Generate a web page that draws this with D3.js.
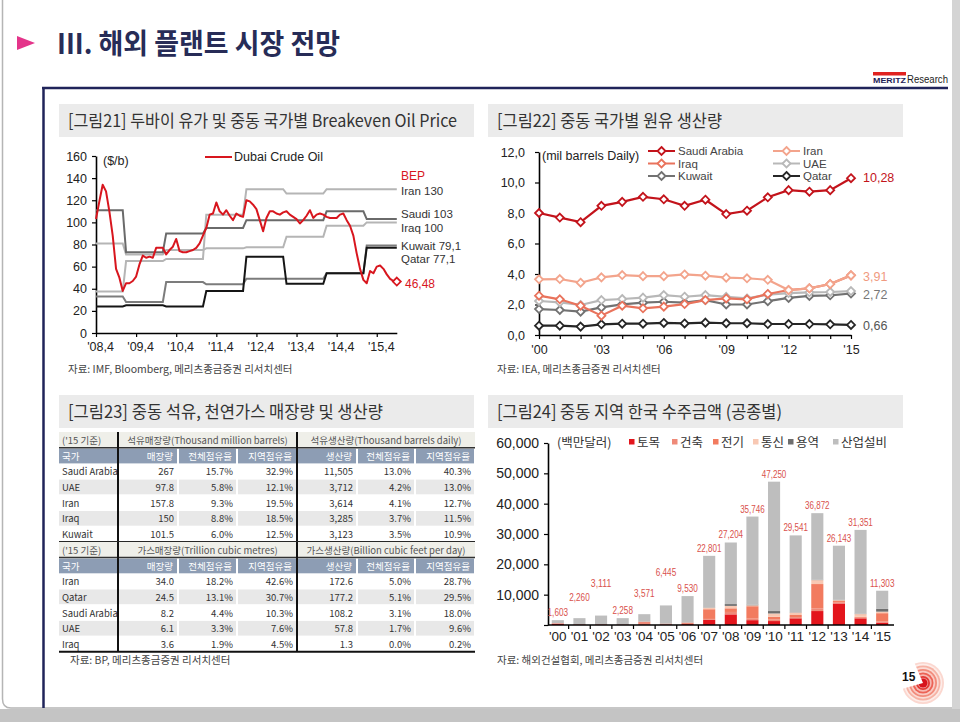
<!DOCTYPE html>
<html><head><meta charset="utf-8">
<script src="https://cdn.jsdelivr.net/npm/d3@7"></script>
<style>body{margin:0;background:#fff}svg{display:block}</style>
</head><body><svg id="c" width="960" height="722"></svg>
<script>
// ================= DATA =================
// Fig 21: Dubai crude monthly (from 2008.4) and annual breakeven prices
const dubaiTickLabels = ["'08,4","'09,4","'10,4","'11,4","'12,4","'13,4","'14,4","'15,4"];
const dubai = [103,119,134,128,110,88,58,50,38,45,45,47,51,62,70,68,69,68,77,77,77,71,75,78,85,74,73,73,74,75,
  77,81,88,95,107,108,118,110,107,111,106,102,108,106,105,120,119,116,112,102,92,104,110,110,108,107,109,110,107,105,
  103,99,102,106,111,104,107,108,107,105,104,104,104,107,108,102,97,88,72,58,48,45,56,54,60,61,58,53,49,47,46.48];
const bepYears = [2008,2009,2010,2011,2012,2013,2014,2015];
const bepIran   = [37.6,65,67,107,130,126,130,130];
const bepSaudi  = [111,73,90,95,102,102,110,103];
const bepIraq   = [81,71,75,76.5,77.5,87,97,100];
const bepKuwait = [33,28,46,44,49,49,54,79.1];
const bepQatar  = [24,25,24,38,69,44.5,54,77.1];
const bepLabels = ["Iran 130","Saudi 103","Iraq 100","Kuwait 79,1","Qatar 77,1"];

// Fig 22: crude production (mil b/d), 2000-2015
const prodYears = d3.range(2000,2016);
const prodSaudi  = [8.0,7.7,7.4,8.47,8.73,9.06,8.9,8.47,8.87,7.93,8.15,9.03,9.5,9.4,9.5,10.28];
const prodIran   = [3.65,3.67,3.43,3.78,3.93,3.86,3.86,3.97,3.89,3.76,3.72,3.62,2.95,3.06,3.34,3.91];
const prodIraq   = [2.58,2.34,1.92,1.27,1.92,1.75,1.86,2.03,2.29,2.40,2.34,2.69,2.95,3.06,3.34,3.91];
const prodUAE    = [2.23,2.14,1.97,2.29,2.36,2.45,2.62,2.51,2.62,2.5,2.4,2.65,2.75,2.8,2.82,2.88];
const prodKuwait = [1.70,1.64,1.53,1.81,2.01,2.12,2.18,2.12,2.29,2.0,2.0,2.22,2.43,2.56,2.6,2.72];
const prodQatar  = [0.61,0.61,0.55,0.70,0.74,0.74,0.79,0.76,0.81,0.77,0.77,0.72,0.72,0.72,0.70,0.66];

// Fig 23: tables
const oilCountries = ["Saudi Arabia","UAE","Iran","Iraq","Kuwait"];
const oilReserve   = ["267","97.8","157.8","150","101.5"];
const oilResTotal  = ["15.7%","5.8%","9.3%","8.8%","6.0%"];
const oilResRegion = ["32.9%","12.1%","19.5%","18.5%","12.5%"];
const oilProd      = ["11,505","3,712","3,614","3,285","3,123"];
const oilProdTotal = ["13.0%","4.2%","4.1%","3.7%","3.5%"];
const oilProdRegion= ["40.3%","13.0%","12.7%","11.5%","10.9%"];
const gasCountries = ["Iran","Qatar","Saudi Arabia","UAE","Iraq"];
const gasReserve   = ["34.0","24.5","8.2","6.1","3.6"];
const gasResTotal  = ["18.2%","13.1%","4.4%","3.3%","1.9%"];
const gasResRegion = ["42.6%","30.7%","10.3%","7.6%","4.5%"];
const gasProd      = ["172.6","177.2","108.2","57.8","1.3"];
const gasProdTotal = ["5.0%","5.1%","3.1%","1.7%","0.0%"];
const gasProdRegion= ["28.7%","29.5%","18.0%","9.6%","0.2%"];
const colHeads = ["국가","매장량","전체점유율","지역점유율","생산량","전체점유율","지역점유율"];

// Fig 24: Korean orders in Middle East by work type (USD mn)
const orderYears = ["'00","'01","'02","'03","'04","'05","'06","'07","'08","'09","'10","'11","'12","'13","'14","'15"];
const orderTotal = [1603,2260,3111,2258,3571,6445,9530,22801,27204,35746,47250,29541,36872,26143,31351,11303];
const civil    = [400,150,150,100,200,150,300,1700,3500,1600,1300,2200,4600,7100,2200,800];
const building = [200,100,100,100,900,300,500,300,800,500,500,400,900,300,200,400];
const electric = [0,0,0,0,0,0,0,3200,1200,4100,900,700,8000,500,300,2700];
const telecom  = [0,0,0,0,0,0,0,500,800,300,1100,800,1300,300,900,500];
const service  = [0,0,0,0,50,50,50,100,600,200,800,100,100,100,100,900];
const plant    = [1000,2010,2860,2060,2420,5950,8680,17000,20300,29050,42650,25340,21970,17840,27650,6000];

// ================= DRAW =================
const F = "'Liberation Sans','Noto Sans CJK KR',sans-serif";
const K = "'Noto Sans CJK KR',sans-serif";
const svg = d3.select('#c');
const txt = (x,y,s,o={}) => {
  const t = svg.append('text').attr('x',x).attr('y',y).text(s)
    .attr('font-family',o.ff||F).attr('font-size',o.fs||12).attr('fill',o.fill||'#222');
  if (o.anchor) t.attr('text-anchor',o.anchor);
  if (o.fw) t.attr('font-weight',o.fw);
  if (o.tl) t.attr('textLength',o.tl).attr('lengthAdjust','spacingAndGlyphs');
  if (o.db) t.attr('dominant-baseline',o.db);
  return t;
};

// page frame
svg.append('rect').attr('width',960).attr('height',722).attr('fill','#fff');
svg.append('rect').attr('x',952).attr('y',0).attr('width',8).attr('height',722).attr('fill','#d4d4d4');
svg.append('rect').attr('x',0).attr('y',709).attr('width',960).attr('height',13).attr('fill','#c4c4c4');
svg.append('path').attr('d','M2.5,0 V699 Q2.5,708 11,708 H952').attr('fill','none').attr('stroke','#b5b5b5').attr('stroke-width',1.5);

// title
svg.append('path').attr('d','M17,36 L35,43 L17,50 Z').attr('fill','#e4348a');
txt(57,54,'III. 해외 플랜트 시장 전망',{ff:K,fs:28,fw:700,fill:'#272c57',tl:283});
// logo
svg.append('rect').attr('x',873).attr('y',72).attr('width',33).attr('height',3.5).attr('fill','#e0221f');
txt(873,83,'MERITZ',{fs:7.5,fw:700,fill:'#1f2357',tl:33});
txt(907,83,'Research',{fs:10,fill:'#222',tl:41});
// navy frame
svg.append('line').attr('x1',42).attr('x2',948).attr('y1',88).attr('y2',88).attr('stroke','#20245a').attr('stroke-width',2.5);
svg.append('line').attr('x1',43.5).attr('x2',43.5).attr('y1',88).attr('y2',708).attr('stroke','#20245a').attr('stroke-width',2.5);

// section headers
[[59,104,'[그림21] 두바이 유가 및 중동 국가별 Breakeven Oil Price',389],
 [488,104,'[그림22] 중동 국가별 원유 생산량',225],
 [59,395,'[그림23] 중동 석유, 천연가스 매장량 및 생산량',315],
 [488,395,'[그림24] 중동 지역 한국 수주금액 (공종별)',285]].forEach(([x,y,s,tl])=>{
  svg.append('rect').attr('x',x).attr('y',y).attr('width',415).attr('height',33).attr('fill','#ebebeb');
  txt(x+9,y+23,s,{ff:K,fs:17,fill:'#333',tl:tl});
});

function styleAxis(g, fs){
  g.attr('font-family',F).attr('font-size',fs);
  g.select('.domain').attr('stroke','#000').attr('stroke-width',1.6);
  g.selectAll('.tick line').attr('stroke','#000').attr('stroke-width',1.2);
  g.selectAll('.tick text').attr('fill','#222');
}
const decComma = f => d => f(d).replace('.',',');

// ---------- Fig 21 ----------
{
  const x = d3.scaleLinear().domain([0,90]).range([96,396.8]);
  const y = d3.scaleLinear().domain([0,160]).range([333,156]);
  const gy = svg.append('g').attr('transform','translate(96,0)')
    .call(d3.axisLeft(y).tickValues(d3.range(0,161,20)).tickSize(4).tickSizeOuter(0).tickPadding(5));
  styleAxis(gy,12.5);
  const gx = svg.append('g').attr('transform','translate(0,333)')
    .call(d3.axisBottom(x).tickValues(d3.range(0,85,12)).tickFormat((d,i)=>dubaiTickLabels[i]).tickSize(4).tickSizeOuter(0).tickPadding(5));
  styleAxis(gx,12.5);
  gx.selectAll('.tick text').attr('dx',4);
  const months = d3.range(0,91);
  const yi = m => m < 9 ? 0 : 1 + Math.floor((m-9)/12);
  const line = d3.line().x(d=>d[0]).y(d=>d[1]);
  const bep = [[bepIran,'#b5b5b5'],[bepIraq,'#b5b5b5'],[bepKuwait,'#7c7c7c'],[bepSaudi,'#6a6a6a'],[bepQatar,'#151515']];
  bep.forEach(([s,c])=>{
    svg.append('path').attr('d',line(months.map(m=>[x(m),y(s[yi(m)])])))
      .attr('fill','none').attr('stroke',c).attr('stroke-width',2);
  });
  svg.append('path').attr('d',line(dubai.map((v,i)=>[x(i),y(v)])))
    .attr('fill','none').attr('stroke','#d8161e').attr('stroke-width',2).attr('stroke-linejoin','round');
  const lx = x(90), ly = y(dubai[90]);
  svg.append('path').attr('d',`M${lx},${ly-4} L${lx+4},${ly} L${lx},${ly+4} L${lx-4},${ly} Z`)
    .attr('fill','#fff').attr('stroke','#d8161e').attr('stroke-width',1.8);
  txt(103,165,'($/b)',{fs:12.5});
  svg.append('line').attr('x1',205).attr('x2',232).attr('y1',157).attr('y2',157).attr('stroke','#d8161e').attr('stroke-width',2);
  txt(234,161,'Dubai Crude Oil',{fs:12.5});
  txt(401,180,'BEP',{fs:12,fill:'#d8161e'});
  const ys = [195,218,232,250,263];
  bepLabels.forEach((s,i)=>txt(401,ys[i],s,{fs:11.5,fill:'#333'}));
  txt(405,288,String(dubai[90]).replace('.',','),{fs:12,fill:'#d8161e'});
  txt(68,373,'자료: IMF, Bloomberg, 메리츠종금증권 리서치센터',{ff:K,fs:10.5,fill:'#444'});
}

// ---------- Fig 22 ----------
{
  const x = d3.scaleLinear().domain([2000,2015]).range([539,851]);
  const y = d3.scaleLinear().domain([0,12]).range([335,152]);
  const gy = svg.append('g').attr('transform','translate(539,0)')
    .call(d3.axisLeft(y).tickValues(d3.range(0,13,2)).tickFormat(decComma(d3.format('.1f'))).tickSize(4).tickSizeOuter(0).tickPadding(10));
  styleAxis(gy,12.5);
  const gx = svg.append('g').attr('transform','translate(0,335)')
    .call(d3.axisBottom(x).tickValues(prodYears).tickFormat(d=> (d-2000)%3===0 ? "'"+String(d).slice(2) : '').tickSize(4).tickSizeOuter(0).tickPadding(6));
  styleAxis(gx,12.5);
  const series = [
    ['Qatar',prodQatar,'#262626'],['Kuwait',prodKuwait,'#727272'],['UAE',prodUAE,'#b8b8b8'],
    ['Iraq',prodIraq,'#e9735c'],['Iran',prodIran,'#f3a48c'],['Saudi Arabia',prodSaudi,'#c3131b']];
  const line = d3.line().x((d,i)=>x(prodYears[i])).y(d=>y(d));
  const dia = (g,cx,cy,c)=> g.append('path').attr('d',`M${cx},${cy-4} L${cx+4},${cy} L${cx},${cy+4} L${cx-4},${cy} Z`)
      .attr('fill','#fff').attr('stroke',c).attr('stroke-width',1.8);
  series.forEach(([n,s,c])=>{
    svg.append('path').attr('d',line(s)).attr('fill','none').attr('stroke',c).attr('stroke-width',2.2);
    const g = svg.append('g');
    s.forEach((v,i)=>dia(g,x(prodYears[i]),y(v),c));
  });
  txt(542,160,'(mil barrels Daily)',{fs:12.5});
  const leg = [['Saudi Arabia','#c3131b',648,151],['Iraq','#e9735c',648,163.5],['Kuwait','#727272',648,176],
               ['Iran','#f3a48c',773,151],['UAE','#b8b8b8',773,163.5],['Qatar','#262626',773,176]];
  leg.forEach(([n,c,lx,ly])=>{
    svg.append('line').attr('x1',lx).attr('x2',lx+27).attr('y1',ly).attr('y2',ly).attr('stroke',c).attr('stroke-width',2);
    dia(svg,lx+13.5,ly,c);
    txt(lx+30,ly+4,n,{fs:11.5,fill:'#444'});
  });
  const fmt = decComma(d3.format('.2f'));
  txt(863,182,fmt(prodSaudi[15]),{fs:12.5,fill:'#c3131b'});
  txt(863,281,fmt(prodIran[15]),{fs:12.5,fill:'#f09a80'});
  txt(863,299,fmt(prodKuwait[15]),{fs:12.5,fill:'#777'});
  txt(863,330,fmt(prodQatar[15]),{fs:12.5,fill:'#555'});
  txt(497,373,'자료: IEA, 메리츠종금증권 리서치센터',{ff:K,fs:10.5,fill:'#444'});
}

// ---------- Fig 23 tables ----------
{
  const xs = [59,118,178,237,297,357,415,475];
  const h = 15.7;
  function block(y0, titles, countries, cols){
    svg.append('rect').attr('x',xs[0]).attr('y',y0).attr('width',xs[7]-xs[0]).attr('height',h).attr('fill','#efefe9');
    txt(62,y0+h/2,"('15 기준)",{ff:K,fs:9.5,fill:'#555',db:'central'});
    txt((xs[1]+xs[4])/2,y0+h/2,titles[0],{ff:K,fs:9.5,fill:'#555',anchor:'middle',db:'central'});
    txt((xs[4]+xs[7])/2,y0+h/2,titles[1],{ff:K,fs:9.5,fill:'#555',anchor:'middle',db:'central'});
    const y1 = y0+h;
    for (let c=0;c<7;c++){
      svg.append('rect').attr('x',xs[c]+(c?1:0)).attr('y',y1+1).attr('width',xs[c+1]-xs[c]-(c?2:1)).attr('height',h-1).attr('fill','#8d9db4');
      if (c===0) txt(62,y1+h/2+0.5,colHeads[c],{ff:K,fs:9.5,fill:'#fff',db:'central'});
      else txt(xs[c+1]-5,y1+h/2+0.5,colHeads[c],{ff:K,fs:9.5,fill:'#fff',anchor:'end',db:'central'});
    }
    countries.forEach((cn,r)=>{
      const yr = y1+h*(r+1);
      if (r%2===1){
        for (let c=0;c<7;c++) svg.append('rect').attr('x',xs[c]+(c?1:0)).attr('y',yr+0.5).attr('width',xs[c+1]-xs[c]-(c?2:1)).attr('height',h-1).attr('fill','#e8e8e8');
      }
      txt(62,yr+h/2,cn,{ff:K,fs:9.5,fill:'#333',db:'central'});
      cols.forEach((col,c)=>txt(xs[c+2]-4,yr+h/2,col[r],{ff:K,fs:9.5,fill:'#333',anchor:'end',db:'central'}));
    });
    svg.append('line').attr('x1',xs[0]).attr('x2',xs[7]).attr('y1',y1).attr('y2',y1).attr('stroke','#333').attr('stroke-width',1.5);
    const yb = y1+h*6;
    svg.append('line').attr('x1',xs[0]).attr('x2',xs[7]).attr('y1',yb).attr('y2',yb).attr('stroke','#111').attr('stroke-width',2);
    [xs[1],xs[4]].forEach(xv=>svg.append('line').attr('x1',xv).attr('x2',xv).attr('y1',y0).attr('y2',yb).attr('stroke','#111').attr('stroke-width',2));
    return yb;
  }
  const yb = block(432,['석유매장량(Thousand million barrels)','석유생산량(Thousand barrels daily)'],oilCountries,
    [oilReserve,oilResTotal,oilResRegion,oilProd,oilProdTotal,oilProdRegion]);
  block(yb,['가스매장량(Trillion cubic metres)','가스생산량(Billion cubic feet per day)'],gasCountries,
    [gasReserve,gasResTotal,gasResRegion,gasProd,gasProdTotal,gasProdRegion]);
  txt(70,664,'자료: BP, 메리츠종금증권 리서치센터',{ff:K,fs:10.5,fill:'#444'});
}

// ---------- Fig 24 ----------
{
  const x = d3.scaleBand().domain(orderYears).range([547,893]).paddingInner(0.44).paddingOuter(0.22);
  const y = d3.scaleLinear().domain([0,60000]).range([625,443]);
  const keys = ['토목','건축','전기','통신','용역','산업설비'];
  const colors = ['#e3151c','#ef8a78','#f27b5f','#f8c8b3','#6e6e6e','#bebebe'];
  const src = [civil,building,electric,telecom,service,plant];
  const rows = orderYears.map((yr,i)=>{ const o={yr}; keys.forEach((k,j)=>o[k]=src[j][i]); return o; });
  const stack = d3.stack().keys(keys)(rows);
  stack.forEach((layer,j)=>{
    svg.append('g').selectAll('rect').data(layer).join('rect')
      .attr('x',d=>x(d.data.yr)).attr('width',x.bandwidth())
      .attr('y',d=>y(d[1])).attr('height',d=>Math.max(0,y(d[0])-y(d[1])))
      .attr('fill',colors[j]);
  });
  const gy = svg.append('g').attr('transform','translate(548,0)')
    .call(d3.axisLeft(y).tickValues(d3.range(0,60001,10000)).tickFormat(d=>d===0?'':d3.format(',')(d)).tickSize(4).tickSizeOuter(0).tickPadding(5));
  styleAxis(gy,14);
  const gx = svg.append('g').attr('transform','translate(0,625)')
    .call(d3.axisBottom(x).tickSize(0).tickSizeOuter(0).tickPadding(6));
  styleAxis(gx,13.5);
  gx.select('.domain').attr('d','M548,0H894');
  const step = x.step();
  orderYears.forEach((yr,i)=>{
    const bx = x(yr) - step*x.paddingInner()/2;
    if (i>0) svg.append('line').attr('x1',bx).attr('x2',bx).attr('y1',625).attr('y2',629).attr('stroke','#000').attr('stroke-width',1.2);
  });
  // total labels, nudged upward when they would collide with the previous label
  let prevY = null;
  orderYears.forEach((yr,i)=>{
    const s = d3.format(',')(orderTotal[i]);
    const top = y(orderTotal[i]);
    let ly = top - 4;
    for (const off of [4,17,29]) { ly = top - off; if (prevY===null || Math.abs(ly-prevY) >= 12) break; }
    prevY = ly;
    txt(x(yr)+x.bandwidth()/2,ly,s,{fs:10.5,fill:'#d9514c',anchor:'middle',tl:s.length*4.1});
  });
  txt(557,447,'(백만달러)',{ff:K,fs:12.5,fill:'#333'});
  const lx = [629,672,713,753,788,833];
  keys.forEach((k,j)=>{
    svg.append('rect').attr('x',lx[j]).attr('y',439).attr('width',5.5).attr('height',5.5).attr('fill',colors[j]);
    txt(lx[j]+8,447,k,{ff:K,fs:12.5,fill:'#333'});
  });
  txt(497,664,'자료: 해외건설협회, 메리츠종금증권 리서치센터',{ff:K,fs:10.5,fill:'#444'});
}

// ---------- page number ----------
{
  const cx=923, cy=683;
  const rings=[[21,'#fbd7cf'],[17.5,'#f6b2a4'],[14,'#f28c7c'],[10.5,'#ec6255'],[7,'#e23a35']];
  rings.forEach(([r,c])=>{
    svg.append('circle').attr('cx',cx).attr('cy',cy).attr('r',r).attr('fill',c);
    svg.append('circle').attr('cx',cx).attr('cy',cy).attr('r',r-1.8).attr('fill','#fff').attr('opacity',0.55);
  });
  svg.append('circle').attr('cx',cx).attr('cy',cy).attr('r',4.5).attr('fill','#d7141c');
  svg.append('path').attr('transform',`translate(${cx},${cy})`)
    .attr('d',d3.arc()({innerRadius:0,outerRadius:24,startAngle:-1.84,endAngle:-0.4})).attr('fill','#fff');
  txt(902,681,'15',{fs:12,fw:700,fill:'#111'});
}
</script></body></html>
